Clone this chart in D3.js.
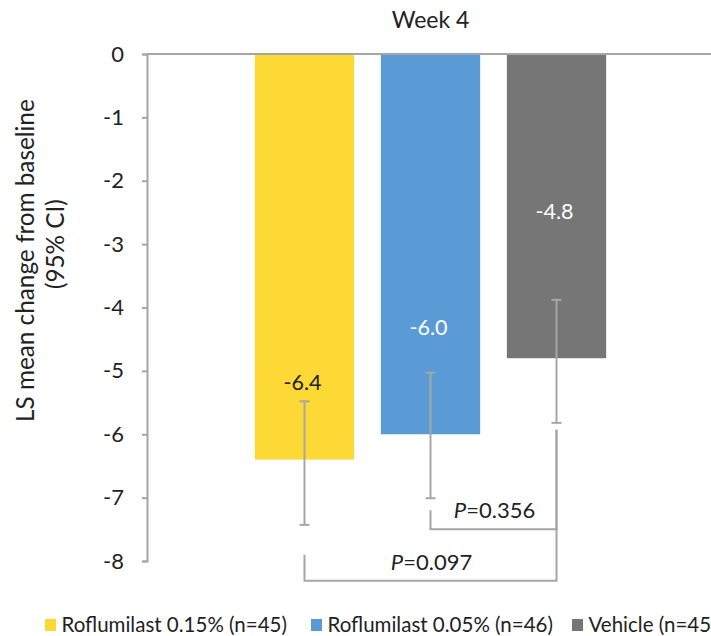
<!DOCTYPE html>
<html>
<head>
<meta charset="utf-8">
<script src="https://cdn.jsdelivr.net/npm/d3@7"></script>
<style>
  body { margin: 0; background: #fff; }
  text { font-family: Lato, "Liberation Sans", sans-serif; }
</style>
</head>
<body>
<svg id="chart"></svg>
<script>
const groups = ['Roflumilast 0.15% (n=45)', 'Roflumilast 0.05% (n=46)', 'Vehicle (n=45)'];
const lsMean = [-6.4, -6.0, -4.8];
const ciUpper = [-5.48, -5.03, -3.88];
const ciLower = [-7.43, -7.01, -5.82];
const yTicks = [0, -1, -2, -3, -4, -5, -6, -7, -8];
const pValues = ['0.356', '0.097'];
const pairs = [[1, 2], [0, 2]];

const colors = ['#fdd936', '#5b9bd5', '#767676'];
const labelColors = ['#222', '#fff', '#fff'];
// where the value labels sit inside the bars, and bracket levels (axis units)
const labelAt = [-5.19, -4.31, -2.48];
const bracketLevel = [-7.5, -8.31];
const bracketFoot = [[-7.2, -5.93], [-7.9, -5.93]];

const width = 711;
const height = 636;
const margin = { top: 54, right: -3, bottom: 75, left: 147 };

const svg = d3.select('#chart').attr('width', width).attr('height', height);

const x = d3.scaleBand()
  .domain(groups)
  .range([margin.left, width - margin.right])
  .paddingInner(0.212)
  .paddingOuter(0.856);

const y = d3.scaleLinear()
  .domain([0, -8])
  .range([margin.top, height - margin.bottom]);

const cx = (i) => x(groups[i]) + x.bandwidth() / 2;

// title
svg.append('text')
  .attr('x', cx(1))
  .attr('y', 28)
  .attr('text-anchor', 'middle')
  .attr('font-size', 23)
  .attr('fill', '#222')
  .text('Week 4');

// bars
svg.selectAll('rect.bar')
  .data(groups)
  .enter().append('rect')
  .attr('class', 'bar')
  .attr('x', (d) => x(d))
  .attr('y', y(0))
  .attr('width', x.bandwidth())
  .attr('height', (d, i) => y(lsMean[i]) - y(0))
  .attr('fill', (d, i) => colors[i]);

// y axis
const yAxis = svg.append('g')
  .attr('transform', `translate(${margin.left},0)`)
  .call(d3.axisLeft(y).tickValues(yTicks).tickSize(5).tickSizeOuter(5).tickPadding(18)
    .tickFormat((d) => (d === 0 ? '0' : `-${Math.abs(d)}`)));
yAxis.select('.domain').attr('stroke', '#a6a6a6').attr('stroke-width', 2);
yAxis.selectAll('.tick line').attr('stroke', '#a6a6a6').attr('stroke-width', 2);
yAxis.selectAll('.tick text')
  .attr('font-size', 22)
  .attr('font-family', 'Lato, sans-serif')
  .attr('fill', '#222');

// zero line across
svg.append('line')
  .attr('x1', margin.left)
  .attr('x2', width)
  .attr('y1', y(0))
  .attr('y2', y(0))
  .attr('stroke', '#a6a6a6')
  .attr('stroke-width', 2);

// y title, two lines
svg.append('text')
  .attr('transform', `translate(34,${y(-3.26)}) rotate(-90)`)
  .attr('text-anchor', 'middle')
  .attr('font-size', 24.3)
  .attr('fill', '#222')
  .text('LS mean change from baseline');
svg.append('text')
  .attr('transform', `translate(64,${y(-3.0)}) rotate(-90)`)
  .attr('text-anchor', 'middle')
  .attr('font-size', 24.3)
  .attr('fill', '#222')
  .text('(95% CI)');

// error bars
const err = svg.append('g')
  .attr('stroke', '#a6a6a6')
  .attr('stroke-width', 2);
groups.forEach((g, i) => {
  err.append('line')
    .attr('x1', cx(i)).attr('x2', cx(i))
    .attr('y1', y(ciUpper[i])).attr('y2', y(ciLower[i]));
  [ciUpper[i], ciLower[i]].forEach((v) => {
    err.append('line')
      .attr('x1', cx(i) - 5).attr('x2', cx(i) + 5)
      .attr('y1', y(v)).attr('y2', y(v));
  });
});

// value labels
svg.selectAll('text.val')
  .data(lsMean)
  .enter().append('text')
  .attr('class', 'val')
  .attr('x', (d, i) => cx(i) - 2)
  .attr('y', (d, i) => y(labelAt[i]))
  .attr('dy', '0.35em')
  .attr('text-anchor', 'middle')
  .attr('font-family', 'Roboto, sans-serif')
  .attr('font-size', 21.5)
  .attr('fill', (d, i) => labelColors[i])
  .text((d) => d.toFixed(1));

// significance brackets
const br = svg.append('g');
pairs.forEach(([a, b], k) => {
  br.append('path')
    .attr('d', d3.line()([
      [cx(a), y(bracketFoot[k][0])],
      [cx(a), y(bracketLevel[k])],
      [cx(b), y(bracketLevel[k])],
      [cx(b), y(bracketFoot[k][1])],
    ]))
    .attr('fill', 'none')
    .attr('stroke', '#a6a6a6')
    .attr('stroke-width', 2);
  const t = br.append('text')
    .attr('x', (cx(a) + cx(b)) / 2 + 1)
    .attr('y', y(bracketLevel[k]) - 11)
    .attr('text-anchor', 'middle')
    .attr('font-size', 22)
    .attr('fill', '#222');
  t.append('tspan').attr('font-style', 'italic').text('P');
  t.append('tspan').text(`=${pValues[k]}`);
});

// legend
const legendX = [45, 311, 572];
const legend = svg.append('g');
groups.forEach((g, i) => {
  const item = legend.append('g').attr('transform', `translate(${legendX[i]},625)`);
  item.append('rect')
    .attr('x', 0).attr('y', -6)
    .attr('width', 11).attr('height', 12)
    .attr('fill', colors[i]);
  item.append('text')
    .attr('x', 16.5)
    .attr('dy', '0.35em')
    .attr('font-size', 20.5)
    .attr('fill', '#222')
    .text(g);
});
</script>
</body>
</html>
